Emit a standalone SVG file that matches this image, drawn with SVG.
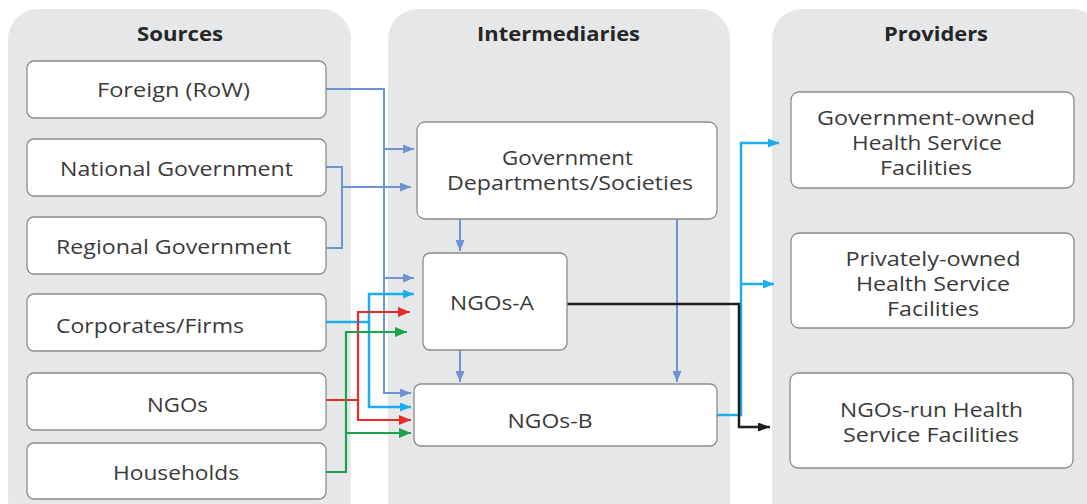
<svg xmlns="http://www.w3.org/2000/svg" width="1087" height="504" viewBox="0 0 1087 504">
<defs>
<style>
.panel{fill:#e6e7e9;}
.box{fill:#ffffff;stroke:#8c8c8c;stroke-width:1.3;}
.t{font-family:"Open Sans","Liberation Sans",sans-serif;font-size:19.5px;fill:#3a3a3a;text-anchor:middle;}
.h{font-family:"Open Sans","Liberation Sans",sans-serif;font-size:19.5px;font-weight:bold;fill:#262626;text-anchor:middle;}
.c{fill:none;stroke-width:2;}
.blue{stroke:#6f92d4;}
.cyan{stroke:#1aaeec;stroke-width:2.5;}
.red{stroke:#ea2a2b;stroke-width:2.2;}
.green{stroke:#1ba24c;stroke-width:2.2;}
.black{stroke:#1e1e1e;stroke-width:2.5;}
</style>
<marker id="aB" markerUnits="userSpaceOnUse" markerWidth="11" markerHeight="9" refX="11" refY="4.5" orient="auto"><path d="M0,0 L11,4.5 L0,9 z" fill="#6f92d4"/></marker>
<marker id="aC" markerUnits="userSpaceOnUse" markerWidth="11" markerHeight="9" refX="11" refY="4.5" orient="auto"><path d="M0,0 L11,4.5 L0,9 z" fill="#1aaeec"/></marker>
<marker id="aR" markerUnits="userSpaceOnUse" markerWidth="12" markerHeight="10" refX="12" refY="5" orient="auto"><path d="M0,0 L12,5 L0,10 z" fill="#ea2a2b"/></marker>
<marker id="aG" markerUnits="userSpaceOnUse" markerWidth="12" markerHeight="10" refX="12" refY="5" orient="auto"><path d="M0,0 L12,5 L0,10 z" fill="#1ba24c"/></marker>
<marker id="aK" markerUnits="userSpaceOnUse" markerWidth="12" markerHeight="9" refX="12" refY="4.5" orient="auto"><path d="M0,0 L12,4.5 L0,9 z" fill="#1e1e1e"/></marker>
</defs>
<rect width="1087" height="504" fill="#ffffff"/>

<g id="panels">
<rect class="panel" x="8" y="9" width="343" height="520" rx="30"/>
<rect class="panel" x="388" y="9" width="342" height="520" rx="30"/>
<rect class="panel" x="772" y="9" width="330" height="520" rx="30"/>
<text class="h" x="180" y="41" textLength="86" lengthAdjust="spacingAndGlyphs">Sources</text>
<text class="h" x="558.5" y="41" textLength="163" lengthAdjust="spacingAndGlyphs">Intermediaries</text>
<text class="h" x="936" y="41" textLength="104" lengthAdjust="spacingAndGlyphs">Providers</text>
</g>

<g id="connectors">
<path class="c blue" d="M326,89 H384 V393 H411" marker-end="url(#aB)"/>
<path class="c blue" d="M384,149 H414" marker-end="url(#aB)"/>
<path class="c blue" d="M384,278 H414" marker-end="url(#aB)"/>
<path class="c blue" d="M326,167 H342 V248 H326"/>
<path class="c blue" d="M342,187 H411" marker-end="url(#aB)"/>
<path class="c blue" d="M460,219 V251" marker-end="url(#aB)"/>
<path class="c blue" d="M460,350 V382" marker-end="url(#aB)"/>
<path class="c blue" d="M677,219 V382" marker-end="url(#aB)"/>
<path class="c cyan" d="M326,322 H369 V407 H411" marker-end="url(#aC)"/>
<path class="c cyan" d="M369,323 V294 H414" marker-end="url(#aC)"/>
<path class="c red" d="M326,400 H358 V312 H410" marker-end="url(#aR)"/>
<path class="c red" d="M358,400 V420 H411" marker-end="url(#aR)"/>
<path class="c green" d="M326,472 H346 V332 H407" marker-end="url(#aG)"/>
<path class="c green" d="M346,433 H411" marker-end="url(#aG)"/>
<path class="c cyan" d="M717,415 H741 V143 H779" marker-end="url(#aC)"/>
<path class="c cyan" d="M741,284 H774" marker-end="url(#aC)"/>
<path class="c black" d="M567,304 H739 V427 H770" marker-end="url(#aK)"/>
</g>

<g id="src-foreign">
<rect class="box" x="27" y="61" width="299" height="57" rx="7"/>
<text class="t" x="173.5" y="97" textLength="153" lengthAdjust="spacingAndGlyphs">Foreign (RoW)</text>
</g>
<g id="src-national">
<rect class="box" x="27" y="139" width="299" height="57" rx="7"/>
<text class="t" x="176.5" y="176" textLength="233" lengthAdjust="spacingAndGlyphs">National Government</text>
</g>
<g id="src-regional">
<rect class="box" x="27" y="217" width="299" height="57" rx="7"/>
<text class="t" x="173.5" y="254" textLength="235" lengthAdjust="spacingAndGlyphs">Regional Government</text>
</g>
<g id="src-corporates">
<rect class="box" x="27" y="294" width="299" height="57" rx="7"/>
<text class="t" x="150" y="332.5" textLength="188" lengthAdjust="spacingAndGlyphs">Corporates/Firms</text>
</g>
<g id="src-ngos">
<rect class="box" x="27" y="373" width="299" height="57" rx="7"/>
<text class="t" x="177.5" y="411.5" textLength="61" lengthAdjust="spacingAndGlyphs">NGOs</text>
</g>
<g id="src-households">
<rect class="box" x="27" y="443" width="299" height="56" rx="7"/>
<text class="t" x="176" y="480" textLength="126" lengthAdjust="spacingAndGlyphs">Households</text>
</g>

<g id="int-gov">
<rect class="box" x="417" y="122" width="300" height="97" rx="8"/>
<text class="t" x="567.5" y="165" textLength="131" lengthAdjust="spacingAndGlyphs">Government</text>
<text class="t" x="570" y="190" textLength="246" lengthAdjust="spacingAndGlyphs">Departments/Societies</text>
</g>
<g id="int-ngos-a">
<rect class="box" x="423" y="253" width="144" height="97" rx="7"/>
<text class="t" x="492" y="310" textLength="84" lengthAdjust="spacingAndGlyphs">NGOs-A</text>
</g>
<g id="int-ngos-b">
<rect class="box" x="414" y="384" width="303" height="62" rx="7"/>
<text class="t" x="550" y="428" textLength="85" lengthAdjust="spacingAndGlyphs">NGOs-B</text>
</g>

<g id="prov-gov">
<rect class="box" x="791" y="92" width="283" height="96" rx="8"/>
<text class="t" x="926" y="125" textLength="218" lengthAdjust="spacingAndGlyphs">Government-owned</text>
<text class="t" x="927" y="150" textLength="150" lengthAdjust="spacingAndGlyphs">Health Service</text>
<text class="t" x="926" y="175" textLength="92" lengthAdjust="spacingAndGlyphs">Facilities</text>
</g>
<g id="prov-private">
<rect class="box" x="791" y="233" width="283" height="95" rx="8"/>
<text class="t" x="933" y="265.5" textLength="175" lengthAdjust="spacingAndGlyphs">Privately-owned</text>
<text class="t" x="933" y="290.5" textLength="154" lengthAdjust="spacingAndGlyphs">Health Service</text>
<text class="t" x="933" y="315.5" textLength="92" lengthAdjust="spacingAndGlyphs">Facilities</text>
</g>
<g id="prov-ngos">
<rect class="box" x="790" y="373" width="283" height="95" rx="8"/>
<text class="t" x="931.5" y="417" textLength="183" lengthAdjust="spacingAndGlyphs">NGOs-run Health</text>
<text class="t" x="931" y="442" textLength="176" lengthAdjust="spacingAndGlyphs">Service Facilities</text>
</g>
</svg>
